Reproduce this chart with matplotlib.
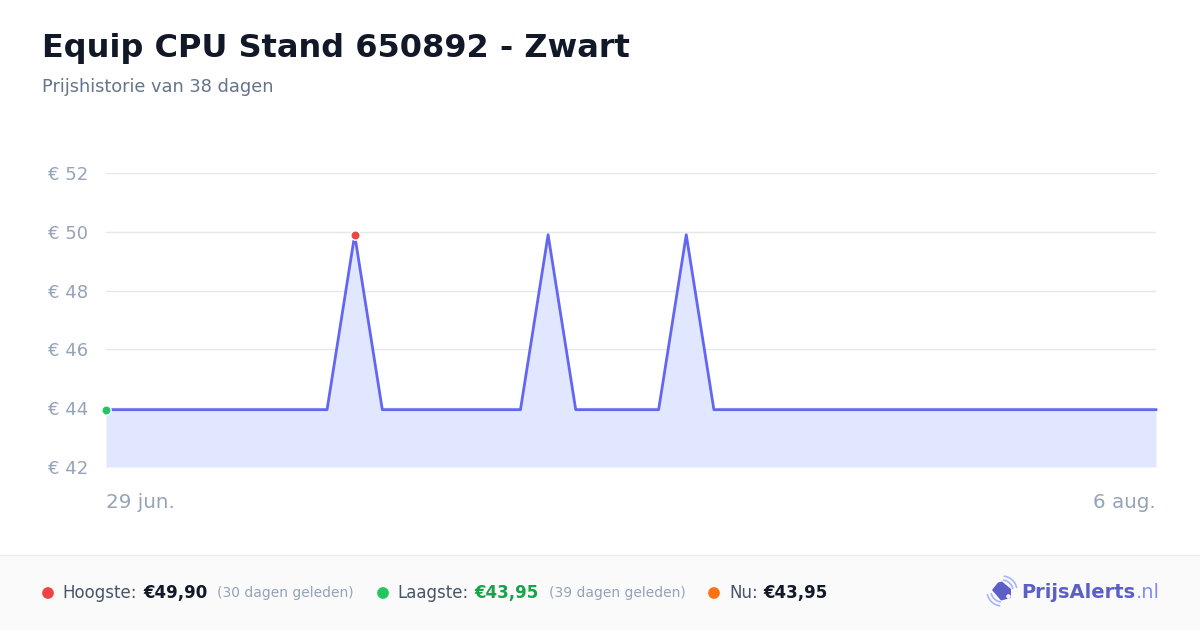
import matplotlib
matplotlib.use("Agg")
import matplotlib.pyplot as plt
from matplotlib.patches import Rectangle, Polygon
import numpy as np

plt.rcParams['font.family'] = ['DejaVu Sans']

# ---- data ----
title = "Equip CPU Stand 650892 - Zwart"
subtitle = "Prijshistorie van 38 dagen"
days = list(range(39))
prices = [43.95] * 9 + [49.90] + [43.95] * 6 + [49.90] + [43.95] * 4 + [49.90] + [43.95] * 17
x_labels = ["29 jun.", "6 aug."]
y_ticks = [42, 44, 46, 48, 50, 52]
y_tick_labels = ["€ 42", "€ 44", "€ 46", "€ 48", "€ 50", "€ 52"]
high_label, high_value, high_note = "Hoogste:", "€49,90", "(30 dagen geleden)"
low_label, low_value, low_note = "Laagste:", "€43,95", "(39 dagen geleden)"
now_label, now_value = "Nu:", "€43,95"

W, H = 1200, 630
fig = plt.figure(figsize=(W / 100, H / 100), dpi=100)
fig.patch.set_facecolor("white")

# overlay in pixel coordinates (background layer)
ov = fig.add_axes([0, 0, 1, 1], facecolor="none", zorder=1)
ov.set_xlim(0, W)
ov.set_ylim(H, 0)
ov.axis("off")

ov.add_patch(Rectangle((0, 555), W, H - 555, facecolor="#fafafa", edgecolor="none", zorder=0))
ov.plot([0, W], [555, 555], color="#eeeeee", lw=1, zorder=1)

# title
ov.text(42, 48, title, fontsize=23, fontweight="bold", color="#111827",
        va="center", ha="left")
ov.text(42, 87, subtitle, fontsize=12.8, color="#64748b", va="center", ha="left")

# chart axes
ax = fig.add_axes([106 / W, 1 - 467 / H, 1050 / W, 294 / H], zorder=2)
ax.patch.set_alpha(0)
ax.set_xlim(0, 38)
ax.set_ylim(42, 52)
for s in ax.spines.values():
    s.set_visible(False)
ax.set_yticks(y_ticks)
ax.set_yticklabels(y_tick_labels)
ax.tick_params(axis="y", length=0, pad=13, labelsize=13, labelcolor="#94a3b8")
ax.set_xticks([])
ax.grid(axis="y", color="#e5e7eb", lw=1)
ax.set_axisbelow(True)

ax.fill_between(days, prices, 42, color="#e0e7ff", lw=0, zorder=2)
ax.plot(days, prices, color="#6366f1", lw=2, zorder=3, clip_on=False)

imax = int(np.argmax(prices))
imin = int(np.argmin(prices))
ax.scatter([days[imax]], [prices[imax]], s=45, color="#ef4444", edgecolor="white",
           linewidth=1, zorder=5, clip_on=False)
ax.scatter([days[imin]], [prices[imin]], s=45, color="#22c55e", edgecolor="white",
           linewidth=1, zorder=5, clip_on=False)

ax.text(0, -0.12, x_labels[0], transform=ax.transAxes, fontsize=14.3, color="#94a3b8",
        ha="left", va="center")
ax.text(1, -0.12, x_labels[1], transform=ax.transAxes, fontsize=14.3, color="#94a3b8",
        ha="right", va="center")

# footer stats
yf = 593
ov.scatter([48, 383, 714], [yf, yf, yf], s=55,
           color=["#ef4444", "#22c55e", "#f97316"], zorder=5)
ov.text(62, yf, high_label, fontsize=12, color="#475569", va="center")
ov.text(143, yf, high_value, fontsize=12, fontweight="bold", color="#111827", va="center")
ov.text(217, yf, high_note, fontsize=10, color="#94a3b8", va="center")
ov.text(397, yf, low_label, fontsize=12, color="#475569", va="center")
ov.text(474, yf, low_value, fontsize=12, fontweight="bold", color="#16a34a", va="center")
ov.text(549, yf, low_note, fontsize=10, color="#94a3b8", va="center")
ov.text(729, yf, now_label, fontsize=12, color="#475569", va="center")
ov.text(763, yf, now_value, fontsize=12, fontweight="bold", color="#111827", va="center")

# logo icon (tag with signal arcs)
tag = Polygon([[992, 590], [998, 582.5], [1002, 581.5], [1011, 589], [1011, 598], [1001, 600.5]],
              closed=True, facecolor="#5b5fc7", edgecolor="none", zorder=6)
ov.add_patch(tag)
ov.scatter([1008], [596], s=5, color="white", zorder=7)
for r in (11, 15):
    t = np.radians(np.linspace(15, 80, 20))
    ov.plot(1002 + r * np.cos(t), 591 - r * np.sin(t), color="#a5b4fc", lw=1.2, zorder=6)
    t = np.radians(np.linspace(195, 260, 20))
    ov.plot(1002 + r * np.cos(t), 591 - r * np.sin(t), color="#a5b4fc", lw=1.2, zorder=6)
ov.text(1021, yf, "PrijsAlerts", fontsize=14, fontweight="bold", color="#5b5fc7", va="center")
ov.text(1136, yf, ".nl", fontsize=14, color="#818cf8", va="center")

fig.savefig("out.png", dpi=100, facecolor="white")
